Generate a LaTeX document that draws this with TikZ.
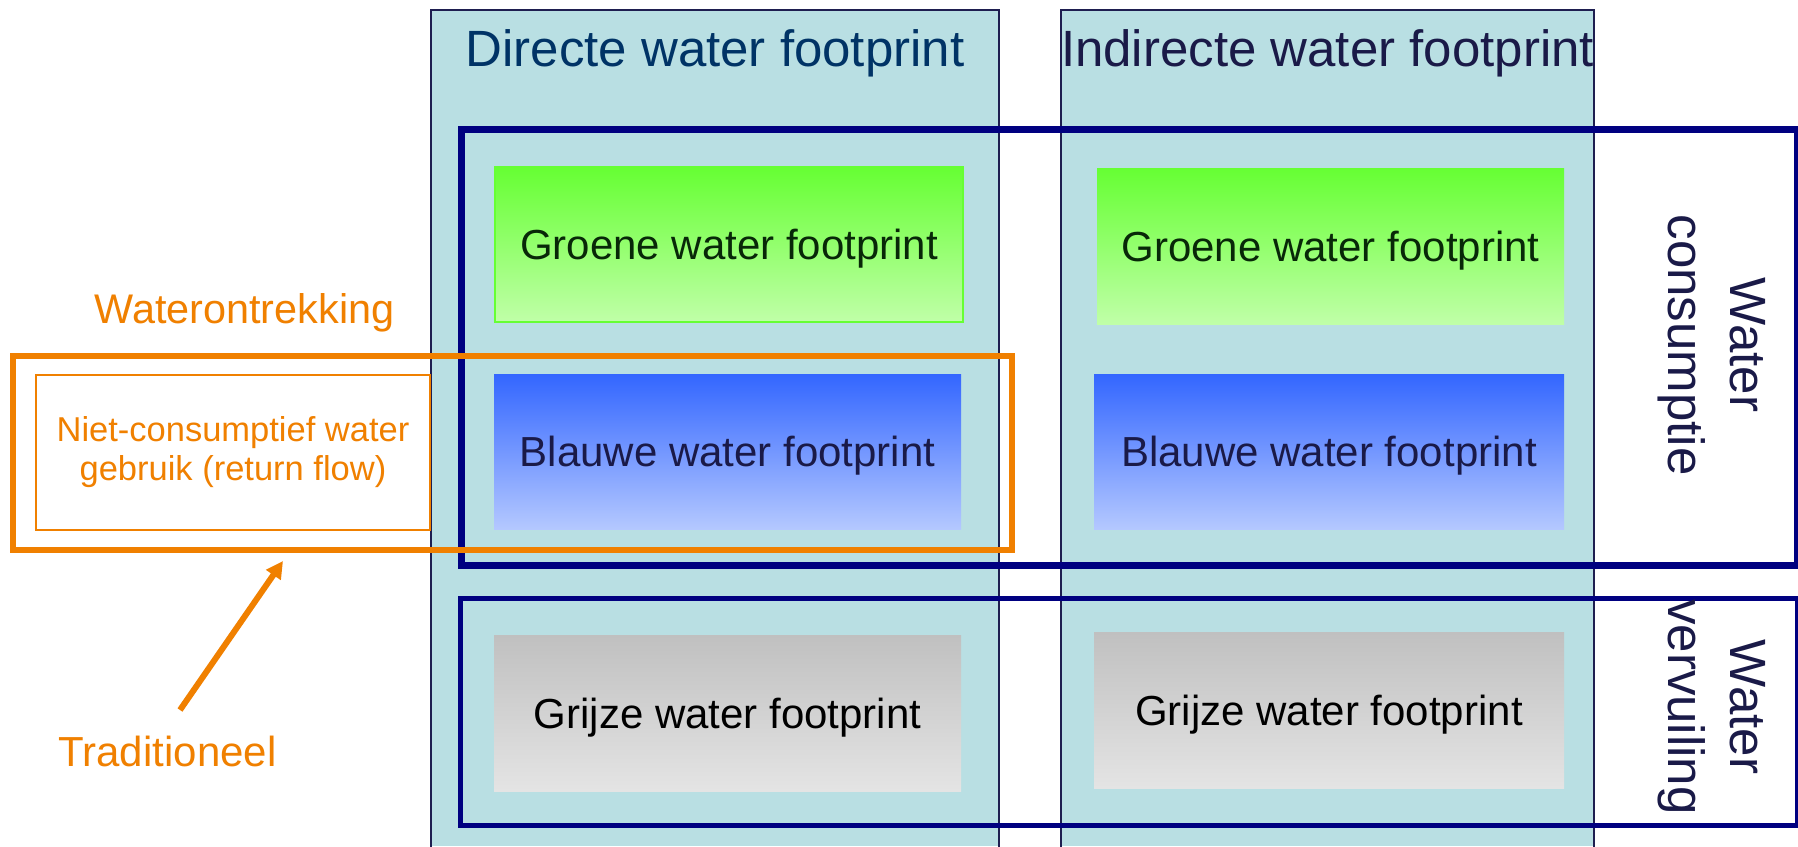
\documentclass[tikz,border=0pt]{standalone}
\usepackage{fontspec}
\setmainfont{Liberation Sans}
\usetikzlibrary{arrows.meta}
\definecolor{colfill}{RGB}{185,223,227}
\definecolor{colline}{RGB}{30,30,80}
\definecolor{navyb}{RGB}{0,0,128}
\definecolor{orng}{RGB}{240,128,0}
\definecolor{titleA}{RGB}{0,51,102}
\definecolor{titleB}{RGB}{26,26,72}
\definecolor{greentop}{RGB}{102,255,51}
\definecolor{greenbot}{RGB}{192,255,168}
\definecolor{bluetop}{RGB}{51,102,255}
\definecolor{bluebot}{RGB}{180,200,255}
\definecolor{greytop}{RGB}{192,192,192}
\definecolor{greybot}{RGB}{228,228,228}
\definecolor{greentext}{RGB}{8,40,8}
\begin{document}
\begin{tikzpicture}[x=1pt,y=-1pt,
  colframe/.style={draw=colline, line width=2pt},
  titletext/.style={anchor=base, inner sep=0pt, font=\fontsize{51}{61}\selectfont},
  fpbox/.style={rectangle, inner sep=0pt, text height=30pt, text depth=0pt,
    font=\fontsize{42}{50}\selectfont},
  greenbox/.style={fpbox, top color=greentop, bottom color=greenbot, text=greentext},
  bluebox/.style={fpbox, top color=bluetop, bottom color=bluebot, text=titleB},
  greybox/.style={fpbox, top color=greytop, bottom color=greybot, text=black},
  sidelabel/.style={rotate=-90, align=center, inner sep=0pt, text=titleB,
    font=\fontsize{51}{62}\selectfont},
  orangetext/.style={text=orng, inner sep=0pt}
]
\useasboundingbox (0,0) rectangle (1798,846);
\fill[white] (0,0) rectangle (1798,846);

% columns
\fill[colfill] (431,10) rectangle (999,846);
\draw[colframe] (431,850) -- (431,10) -- (999,10) -- (999,850);
\fill[colfill] (1061,10) rectangle (1594,846);
\draw[colframe] (1061,850) -- (1061,10) -- (1594,10) -- (1594,850);

% titles
\node[titletext, text=titleA] (tdir) at (715,66) {Directe water footprint};
\node[titletext, text=titleB] (tind) at (1327.5,66) {Indirecte water footprint};

% consumption and pollution frames
\node[draw=navyb, line width=7pt, inner sep=0pt, minimum width=1336.5pt, minimum height=435.5pt] (cons) at (1129.25,347.25) {};
\node[draw=navyb, line width=5pt, inner sep=0pt, minimum width=1337.5pt, minimum height=226.5pt] (poll) at (1128.75,711.75) {};

% footprint boxes
\node[greenbox, draw=greentop, line width=2pt, minimum width=468pt, minimum height=155pt] (g1) at (729,244.5) {Groene water footprint};
\node[greenbox, minimum width=467pt, minimum height=156pt] (g2) at (1330.5,246) {Groene water footprint};
\node[bluebox, minimum width=467pt, minimum height=155pt] (b1) at (727.5,451.5) {Blauwe water footprint};
\node[bluebox, minimum width=470pt, minimum height=155pt] (b2) at (1329,451.5) {Blauwe water footprint};
\node[greybox, minimum width=467pt, minimum height=156pt] (r1) at (727.5,713) {Grijze water footprint};
\node[greybox, minimum width=470pt, minimum height=156pt] (r2) at (1329,710) {Grijze water footprint};

% side labels
\node[sidelabel] (lcons) at (1712,345) {Water\\consumptie};
\node[sidelabel] (lpoll) at (1712,707) {Water\\vervuiling};

% withdrawal (orange)
\node[draw=orng, line width=2pt, minimum width=394pt, minimum height=155pt, inner sep=0pt,
  align=center, text=orng, font=\fontsize{34.5}{39}\selectfont] (ncons) at (233,452.5)
  {Niet-consumptief water\\gebruik (return flow)};
\node[draw=orng, line width=6pt, inner sep=0pt, minimum width=998.5pt, minimum height=194pt] (wo) at (512.25,452.5) {};
\node[orangetext, anchor=base, font=\fontsize{41.4}{49}\selectfont] (lwo) at (244.5,323.3) {Waterontrekking};
\node[orangetext, anchor=base, font=\fontsize{42}{50}\selectfont] (ltrad) at (167.5,766) {Traditioneel};
\coordinate (arrT) at (180,710);
\coordinate (arrH) at (283,561);
\draw[orng, line width=6pt, -{Triangle[length=17pt,width=17pt]}] (arrT) -- (arrH);
\end{tikzpicture}
\end{document}
